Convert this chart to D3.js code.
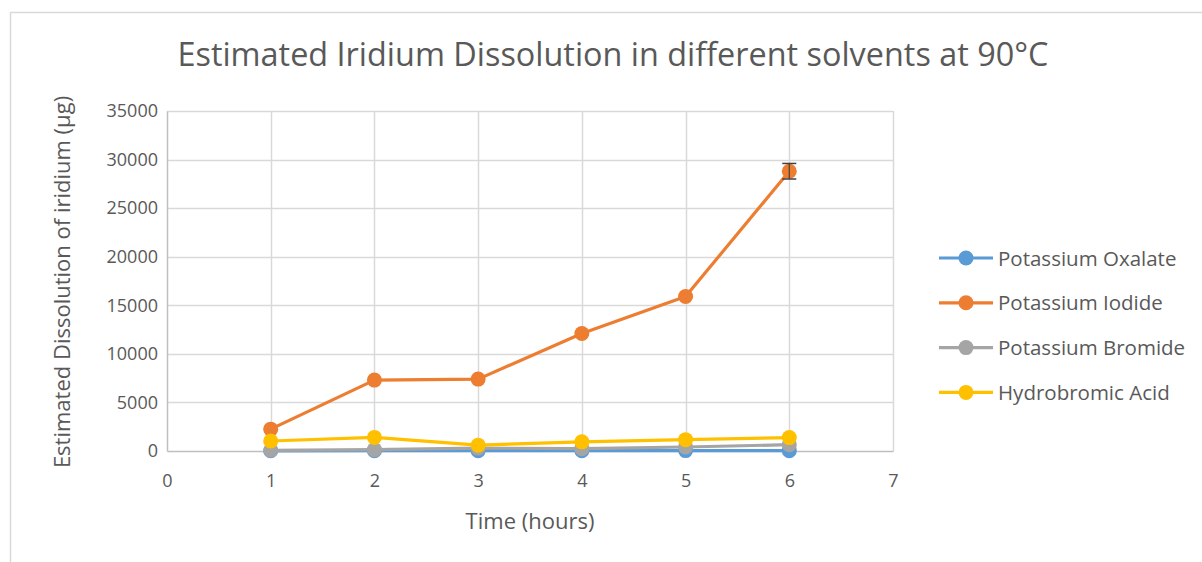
<!DOCTYPE html>
<html>
<head>
<meta charset="utf-8">
<script src="https://cdn.jsdelivr.net/npm/d3@7"></script>
<style>
    body { margin: 0; background: #fff; }
    svg text { font-family: "Open Sans", sans-serif; fill: #595959; }
</style>
</head>
<body>
<div id="chart"></div>
<script>
// Time points (hours)
var hours = [1, 2, 3, 4, 5, 6];

// Estimated dissolution of iridium (µg) per solvent
var seriesNames = ["Potassium Oxalate", "Potassium Iodide", "Potassium Bromide", "Hydrobromic Acid"];
var oxalateValues = [20, 25, 30, 30, 40, 35];
var iodideValues = [2250, 7300, 7400, 12100, 15900, 28800];
var bromideValues = [70, 140, 300, 240, 410, 650];
var hydrobromicValues = [1030, 1400, 600, 940, 1170, 1380];

// Error bar only visible on the last iodide point
var iodideErrors = [0, 0, 0, 0, 0, 800];

var xTicks = [0, 1, 2, 3, 4, 5, 6, 7];
var yTicks = [0, 5000, 10000, 15000, 20000, 25000, 30000, 35000];

var colors = ["#5b9bd5", "#ed7d31", "#a5a5a5", "#ffc000"];

var width = 1202,
    height = 562;

var plot = { left: 167, right: 893, top: 111, bottom: 451 };

var svg = d3.select("#chart")
    .append("svg")
    .attr("width", width)
    .attr("height", height);

// Outer chart border (runs off the right and bottom of the picture)
svg.append("rect")
    .attr("x", 10.5)
    .attr("y", 12.5)
    .attr("width", width + 20)
    .attr("height", height + 20)
    .attr("fill", "none")
    .attr("stroke", "#d9d9d9")
    .attr("stroke-width", 1.5);

var x = d3.scaleLinear().domain([0, 7]).range([plot.left, plot.right]);
var y = d3.scaleLinear().domain([0, 35000]).range([plot.bottom, plot.top]);

// Gridlines
var gGrid = svg.append("g").attr("class", "g-grid");
gGrid.selectAll("line.h")
    .data(yTicks.slice(1))
    .enter().append("line")
    .attr("class", "h")
    .attr("x1", plot.left)
    .attr("x2", plot.right)
    .attr("y1", function (d) { return Math.round(y(d)) + 0.5; })
    .attr("y2", function (d) { return Math.round(y(d)) + 0.5; })
    .attr("stroke", "#d9d9d9")
    .attr("stroke-width", 1.5);

gGrid.selectAll("line.v")
    .data(xTicks.slice(1))
    .enter().append("line")
    .attr("class", "v")
    .attr("x1", function (d) { return Math.round(x(d)) + 0.5; })
    .attr("x2", function (d) { return Math.round(x(d)) + 0.5; })
    .attr("y1", plot.top)
    .attr("y2", plot.bottom)
    .attr("stroke", "#d9d9d9")
    .attr("stroke-width", 1.5);

// Axes
var xAxis = d3.axisBottom(x).tickValues(xTicks).tickFormat(d3.format("d")).tickSize(0).tickPadding(23);
var yAxis = d3.axisLeft(y).tickValues(yTicks).tickFormat(d3.format("d")).tickSize(0).tickPadding(9);

var gx = svg.append("g")
    .attr("transform", "translate(0," + plot.bottom + ")")
    .call(xAxis);
var gy = svg.append("g")
    .attr("transform", "translate(" + plot.left + ",0)")
    .call(yAxis);

gx.select(".domain").attr("stroke", "#bfbfbf").attr("stroke-width", 1.5);
gy.select(".domain").attr("stroke", "#bfbfbf").attr("stroke-width", 1.5);
gx.selectAll("text").attr("font-size", "18px").attr("fill", "#595959").attr("font-family", "Open Sans");
gy.selectAll("text").attr("font-size", "18px").attr("fill", "#595959").attr("font-family", "Open Sans");

// Titles
svg.append("text")
    .attr("x", 613)
    .attr("y", 66)
    .attr("text-anchor", "middle")
    .attr("font-size", "32.4px")
    .text("Estimated Iridium Dissolution in different solvents at 90°C");

svg.append("text")
    .attr("x", 530)
    .attr("y", 529)
    .attr("text-anchor", "middle")
    .attr("font-size", "22px")
    .text("Time (hours)");

svg.append("text")
    .attr("transform", "translate(70,282) rotate(-90)")
    .attr("text-anchor", "middle")
    .attr("font-size", "22px")
    .text("Estimated Dissolution of iridium (µg)");

// Series
var allValues = [oxalateValues, iodideValues, bromideValues, hydrobromicValues];
var series = seriesNames.map(function (name, i) {
    return {
        name: name,
        color: colors[i],
        points: hours.map(function (h, j) { return { x: h, y: allValues[i][j] }; })
    };
});

var line = d3.line()
    .x(function (d) { return x(d.x); })
    .y(function (d) { return y(d.y); });

var gSeries = svg.selectAll("g.series")
    .data(series)
    .enter().append("g")
    .attr("class", "series");

gSeries.append("path")
    .attr("d", function (d) { return line(d.points); })
    .attr("fill", "none")
    .attr("stroke", function (d) { return d.color; })
    .attr("stroke-width", 3.2)
    .attr("stroke-linejoin", "round");

gSeries.selectAll("circle")
    .data(function (d) { return d.points.map(function (p) { return { p: p, color: d.color }; }); })
    .enter().append("circle")
    .attr("cx", function (d) { return x(d.p.x); })
    .attr("cy", function (d) { return y(d.p.y); })
    .attr("r", 7.5)
    .attr("fill", function (d) { return d.color; });

// Error bars for iodide
var gErr = svg.append("g").attr("class", "g-error");
hours.forEach(function (h, i) {
    var e = iodideErrors[i];
    if (!e) return;
    var cx = x(h), v = iodideValues[i];
    gErr.append("line")
        .attr("x1", cx).attr("x2", cx)
        .attr("y1", y(v - e)).attr("y2", y(v + e))
        .attr("stroke", "#404040").attr("stroke-width", 1.2);
    [v - e, v + e].forEach(function (t) {
        gErr.append("line")
            .attr("x1", cx - 7).attr("x2", cx + 7)
            .attr("y1", y(t)).attr("y2", y(t))
            .attr("stroke", "#404040").attr("stroke-width", 1.5);
    });
});

// Legend
var legend = svg.selectAll("g.legend")
    .data(series)
    .enter().append("g")
    .attr("class", "legend")
    .attr("transform", function (d, i) { return "translate(939," + (258 + i * 44.8) + ")"; });

legend.append("line")
    .attr("x1", 0).attr("x2", 54)
    .attr("y1", 0).attr("y2", 0)
    .attr("stroke", function (d) { return d.color; })
    .attr("stroke-width", 3.2);
legend.append("circle")
    .attr("cx", 27).attr("cy", 0).attr("r", 7.5)
    .attr("fill", function (d) { return d.color; });
legend.append("text")
    .attr("x", 59)
    .attr("y", 7.5)
    .attr("font-size", "20.5px")
    .text(function (d) { return d.name; });
</script>
</body>
</html>
